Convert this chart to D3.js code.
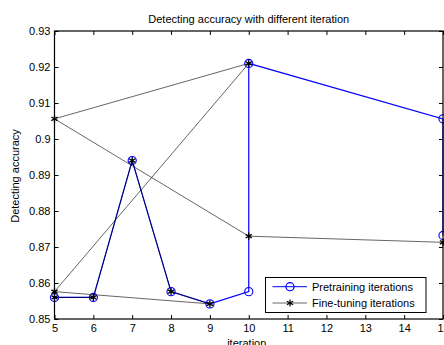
<!DOCTYPE html>
<html>
<head>
<meta charset="utf-8">
<script src="https://cdn.jsdelivr.net/npm/d3@7"></script>
<style>
  html, body { margin: 0; padding: 0; background: #fff; }
  svg { display: block; font-family: "Liberation Sans", Arial, sans-serif; }
</style>
</head>
<body>
<svg id="chart" width="444" height="345"></svg>
<script>
// Pretraining run: iteration and detecting accuracy, in plotting order
const pretrainIter = [5, 6, 7, 8, 9, 10, 10, 15, 15];
const pretrainAcc  = [0.856, 0.856, 0.894, 0.8576, 0.8542, 0.8576, 0.921, 0.9056, 0.8732];

// Fine-tuning run: iteration and detecting accuracy, in plotting order
const fineIter = [5, 6, 7, 8, 9, 5, 10, 5, 10, 15];
const fineAcc  = [0.856, 0.856, 0.894, 0.8576, 0.8542, 0.8576, 0.921, 0.9056, 0.873, 0.8713];

const xTicks = [5, 6, 7, 8, 9, 10, 11, 12, 13, 14, 15];
const yTicks = [0.85, 0.86, 0.87, 0.88, 0.89, 0.9, 0.91, 0.92, 0.93];
const yTickLabels = ["0.85", "0.86", "0.87", "0.88", "0.89", "0.9", "0.91", "0.92", "0.93"];

const seriesNames = ["Pretraining iterations", "Fine-tuning iterations"];
const titleText = "Detecting accuracy with different iteration";
const xLabel = "iteration";
const yLabel = "Detecting accuracy";

const svg = d3.select("#chart");
const plotLeft = 54.5, plotRight = 443, plotTop = 31, plotBottom = 319;

const x = d3.scaleLinear().domain([5, 15]).range([plotLeft, plotRight]);
const y = d3.scaleLinear().domain([0.85, 0.93]).range([plotBottom, plotTop]);

// axes: ticks point inward, mirrored on the top and right sides
const tickLen = 4;
const xAxis = d3.axisBottom(x).tickValues(xTicks).tickSize(-tickLen).tickPadding(5).tickFormat(d3.format("d"));
const yAxis = d3.axisLeft(y).tickValues(yTicks).tickSize(-tickLen).tickPadding(4)
  .tickFormat((d, i) => yTickLabels[i]);

function styleAxis(g) {
  g.select(".domain").remove();
  g.selectAll(".tick line").attr("stroke", "#000").attr("stroke-width", 1);
  g.selectAll(".tick text").attr("fill", "#000").attr("font-size", 11)
    .attr("font-family", "Liberation Sans, Arial, sans-serif");
}

svg.append("g").attr("transform", `translate(0,${plotBottom})`).call(xAxis).call(styleAxis);
svg.append("g").attr("transform", `translate(${plotLeft},0)`).call(yAxis).call(styleAxis);
svg.append("g").attr("transform", `translate(0,${plotTop})`)
  .call(d3.axisTop(x).tickValues(xTicks).tickSize(-tickLen).tickFormat(""))
  .call(styleAxis);
svg.append("g").attr("transform", `translate(${plotRight},0)`)
  .call(d3.axisRight(y).tickValues(yTicks).tickSize(-tickLen).tickFormat(""))
  .call(styleAxis);

// plot data
const pretrain = pretrainIter.map((d, i) => [d, pretrainAcc[i]]);
const fine = fineIter.map((d, i) => [d, fineAcc[i]]);
const line = d3.line().x(d => x(d[0])).y(d => y(d[1]));

const circle = d3.symbol().type(d3.symbolCircle).size(52);
const star = d3.symbol().type(d3.symbolAsterisk).size(36);

svg.append("path").datum(pretrain).attr("d", line)
  .attr("fill", "none").attr("stroke", "#0000ff").attr("stroke-width", 1.2);
svg.append("g").selectAll("path").data(pretrain).join("path")
  .attr("transform", d => `translate(${x(d[0])},${y(d[1])})`)
  .attr("d", circle).attr("fill", "none").attr("stroke", "#0000ff").attr("stroke-width", 1.1);

svg.append("path").datum(fine).attr("d", line)
  .attr("fill", "none").attr("stroke", "#000").attr("stroke-opacity", 0.6).attr("stroke-width", 1);
svg.append("g").selectAll("path").data(fine).join("path")
  .attr("transform", d => `translate(${x(d[0])},${y(d[1])})`)
  .attr("d", star).attr("fill", "none").attr("stroke", "#000").attr("stroke-width", 1.3);

// axes box
svg.append("rect").attr("x", plotLeft).attr("y", plotTop)
  .attr("width", plotRight - plotLeft).attr("height", plotBottom - plotTop)
  .attr("fill", "none").attr("stroke", "#000").attr("stroke-width", 1.2);

// title and axis labels
svg.append("text").attr("x", (plotLeft + plotRight) / 2).attr("y", 23)
  .attr("text-anchor", "middle").attr("font-size", 11).text(titleText);
svg.append("text").attr("x", (plotLeft + plotRight) / 2 - 2).attr("y", 347)
  .attr("text-anchor", "middle").attr("font-size", 11).text(xLabel);
svg.append("text").attr("transform", "translate(19,176) rotate(-90)")
  .attr("text-anchor", "middle").attr("font-size", 11).text(yLabel);

// legend
const lg = svg.append("g");
lg.append("rect").attr("x", 265.5).attr("y", 277.5).attr("width", 160.5).attr("height", 35)
  .attr("fill", "#fff").attr("stroke", "#000").attr("stroke-width", 1);
const rows = [286.7, 303];
const styles = [
  { stroke: "#0000ff", opacity: 1, sym: circle, symStroke: "#0000ff" },
  { stroke: "#000", opacity: 0.6, sym: star, symStroke: "#000" }
];
rows.forEach((ry, i) => {
  lg.append("line").attr("x1", 272.5).attr("x2", 307).attr("y1", ry).attr("y2", ry)
    .attr("stroke", styles[i].stroke).attr("stroke-opacity", styles[i].opacity).attr("stroke-width", 1);
  lg.append("path").attr("transform", `translate(290,${ry})`).attr("d", styles[i].sym)
    .attr("fill", "none").attr("stroke", styles[i].symStroke).attr("stroke-width", 1.2);
  lg.append("text").attr("x", 312).attr("y", ry + 4).attr("font-size", 11).text(seriesNames[i]);
});
</script>
</body>
</html>
